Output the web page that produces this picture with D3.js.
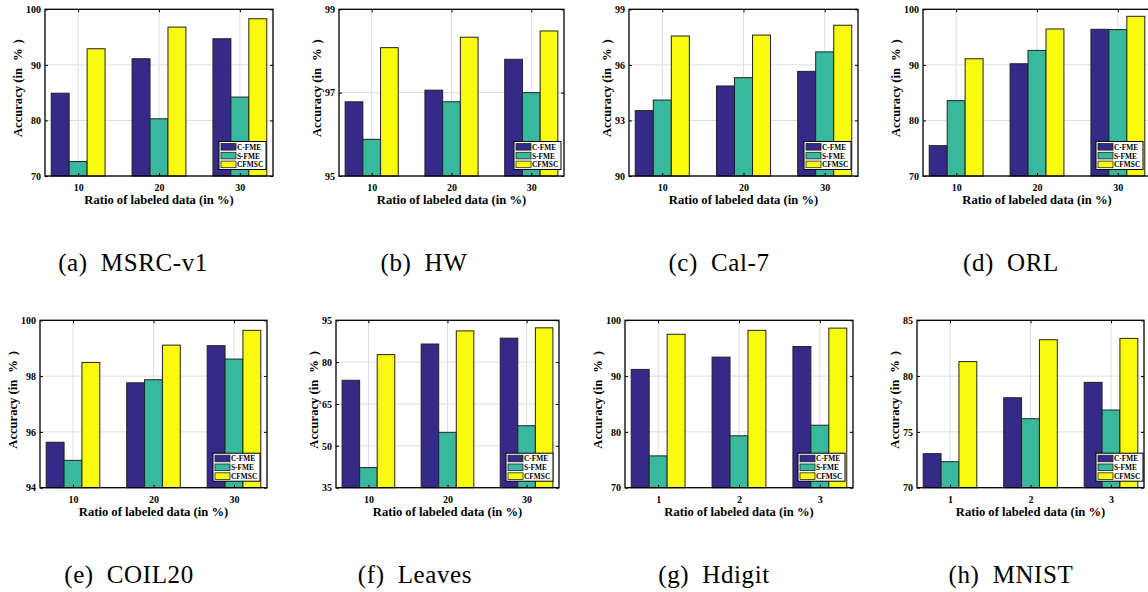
<!DOCTYPE html>
<html>
<head>
<meta charset="utf-8">
<script src="https://cdn.jsdelivr.net/npm/d3@7"></script>
<style>
  body { margin: 0; background: #fff; }
  text { font-family: "Liberation Serif", "Times New Roman", serif; }
</style>
</head>
<body>
<div class="graph"></div>
<script>
// data
var names = ["MSRC-v1", "HW", "Cal-7", "ORL", "COIL20", "Leaves", "Hdigit", "MNIST"];
var letters = ["a", "b", "c", "d", "e", "f", "g", "h"];
var methods = ["C-FME", "S-FME", "CFMSC"];
var ratios = [
    ["10", "20", "30"], ["10", "20", "30"], ["10", "20", "30"], ["10", "20", "30"],
    ["10", "20", "30"], ["10", "20", "30"], ["1", "2", "3"], ["1", "2", "3"]
];
var cfme = [
    [84.9, 91.1, 94.7], [96.78, 97.06, 97.8], [93.53, 94.86, 95.65], [75.46, 90.2, 96.4],
    [95.63, 97.76, 99.09], [73.5, 86.5, 88.6], [91.2, 93.4, 95.3], [73.05, 78.06, 79.44]
];
var sfme = [
    [72.6, 80.3, 84.2], [95.88, 96.78, 97.0], [94.1, 95.31, 96.7], [83.56, 92.6, 96.35],
    [94.98, 97.87, 98.61], [42.2, 54.85, 57.2], [75.7, 79.3, 81.2], [72.33, 76.18, 76.96]
];
var cfmsc = [
    [92.9, 96.8, 98.3], [98.08, 98.33, 98.48], [97.56, 97.61, 98.14], [91.1, 96.46, 98.74],
    [98.49, 99.11, 99.64], [82.7, 91.2, 92.3], [97.5, 98.2, 98.6], [81.3, 83.26, 83.38]
];
var yTicks = [
    [70, 80, 90, 100], [95, 97, 99], [90, 93, 96, 99], [70, 80, 90, 100],
    [94, 96, 98, 100], [35, 50, 65, 80, 95], [70, 80, 90, 100], [70, 75, 80, 85]
];

// layout
var W = 1148, H = 592;
var plotLeft = [45, 339, 629, 923, 40, 336, 625, 917];
var plotRight = [273, 564, 858, 1151, 267, 559, 853, 1144];
var rowTop = [9.3, 320.3], rowBottom = [176, 487.7];
var legendInset = [7, 3, 7, 8, 7, 6, 8, 1];
var captionX = [133, 424, 719, 1011, 129, 415, 714, 1011];
var captionY = [271, 583];
var colors = ["#352a87", "#38b99e", "#f9fb0e"];
var series = [cfme, sfme, cfmsc];
var FONT = "'Liberation Serif', 'Times New Roman', serif";

var svg = d3.select(".graph").append("svg")
    .attr("width", W)
    .attr("height", H);

names.forEach(function (name, p) {
    var row = p < 4 ? 0 : 1;
    var top = rowTop[row], bottom = rowBottom[row];
    var left = plotLeft[p], right = plotRight[p];
    var cats = ratios[p];
    var ticks = yTicks[p];

    var x = d3.scaleLinear().domain([-0.41, cats.length - 1 + 0.41]).range([left, right]);
    var y = d3.scaleLinear().domain([ticks[0], ticks[ticks.length - 1]]).range([bottom, top]);
    var bw = 0.222;

    var g = svg.append("g");

    // grid
    g.selectAll(".hg").data(ticks).enter().append("line")
        .attr("x1", left).attr("x2", right)
        .attr("y1", function (d) { return y(d); }).attr("y2", function (d) { return y(d); })
        .style("stroke", "#dedede").style("stroke-width", 1);
    g.selectAll(".vg").data(cats).enter().append("line")
        .attr("x1", function (d, i) { return x(i); }).attr("x2", function (d, i) { return x(i); })
        .attr("y1", top).attr("y2", bottom)
        .style("stroke", "#dedede").style("stroke-width", 1);

    // bars
    series.forEach(function (s, k) {
        g.selectAll(".bar" + k).data(s[p]).enter().append("rect")
            .attr("x", function (d, i) { return x(i + (k - 1) * bw - bw / 2); })
            .attr("width", x(bw) - x(0))
            .attr("y", function (d) { return y(d); })
            .attr("height", function (d) { return bottom - y(d); })
            .style("fill", colors[k])
            .style("stroke", "#222")
            .style("stroke-width", 1);
    });

    // axes
    var yAxis = d3.axisLeft(y).tickValues(ticks).tickFormat(d3.format("d"))
        .tickSizeInner(-3).tickSizeOuter(0).tickPadding(4);
    var ya = g.append("g").attr("transform", "translate(" + left + ",0)").call(yAxis);
    g.append("g").attr("transform", "translate(" + right + ",0)")
        .call(d3.axisRight(y).tickValues(ticks).tickSizeInner(-3).tickSizeOuter(0).tickFormat(""));
    var xAxis = d3.axisBottom(x).tickValues(d3.range(cats.length))
        .tickFormat(function (d) { return cats[d]; }).tickSizeInner(-3).tickSizeOuter(0).tickPadding(8);
    g.append("g").attr("transform", "translate(0," + bottom + ")").call(xAxis);
    g.append("g").attr("transform", "translate(0," + top + ")")
        .call(d3.axisTop(x).tickValues(d3.range(cats.length)).tickSizeInner(-3).tickSizeOuter(0).tickFormat(""));
    g.selectAll(".domain").remove();
    g.selectAll(".tick line").style("stroke", "#000");
    g.selectAll(".tick text")
        .style("font-family", FONT)
        .style("font-size", "10px").style("font-weight", "bold").style("fill", "#000");

    // box
    g.append("rect")
        .attr("x", left).attr("y", top)
        .attr("width", right - left).attr("height", bottom - top)
        .style("fill", "none").style("stroke", "#000").style("stroke-width", 1.3);

    // labels
    var maxW = 0;
    ya.selectAll("text").each(function () { maxW = Math.max(maxW, this.getBBox().width); });
    g.append("text")
        .attr("x", (left + right) / 2).attr("y", bottom + 28)
        .attr("text-anchor", "middle")
        .style("font-family", FONT)
        .style("font-size", "12.6px").style("font-weight", "bold")
        .text("Ratio of labeled data (in %)");
    var yl = g.append("text")
        .attr("transform", "translate(" + (left - maxW - 8) + "," + (bottom - 39) + ") rotate(-90)")
        .attr("text-anchor", "start")
        .style("font-family", FONT)
        .style("font-size", "12.6px").style("font-weight", "bold");
    yl.append("tspan").text("Accuracy (in");
    yl.append("tspan").attr("dx", 7).text("%");
    yl.append("tspan").attr("dx", 5).text(")");

    // legend
    var lw = 47, lh = 28;
    var lx = right - legendInset[p] - lw, ly = bottom - 6.5 - lh;
    var lg = g.append("g").attr("transform", "translate(" + lx + "," + ly + ")");
    lg.append("rect").attr("width", lw).attr("height", lh)
        .style("fill", "#fff").style("stroke", "#000").style("stroke-width", 1);
    methods.forEach(function (m, k) {
        lg.append("rect")
            .attr("x", 2).attr("y", 2 + k * 8.8)
            .attr("width", 15).attr("height", 6.6)
            .style("fill", colors[k]).style("stroke", "#222").style("stroke-width", 0.8);
        lg.append("text")
            .attr("x", 18).attr("y", 8.2 + k * 8.8)
            .style("font-family", FONT)
            .style("font-size", "7.4px").style("font-weight", "bold")
            .text(m);
    });

    // caption
    svg.append("text")
        .attr("x", captionX[p]).attr("y", captionY[row])
        .attr("text-anchor", "middle")
        .style("font-family", FONT)
        .style("font-size", "25px")
        .style("letter-spacing", "0.6px")
        .text("(" + letters[p] + ")\u2002" + name);
});
</script>
</body>
</html>
